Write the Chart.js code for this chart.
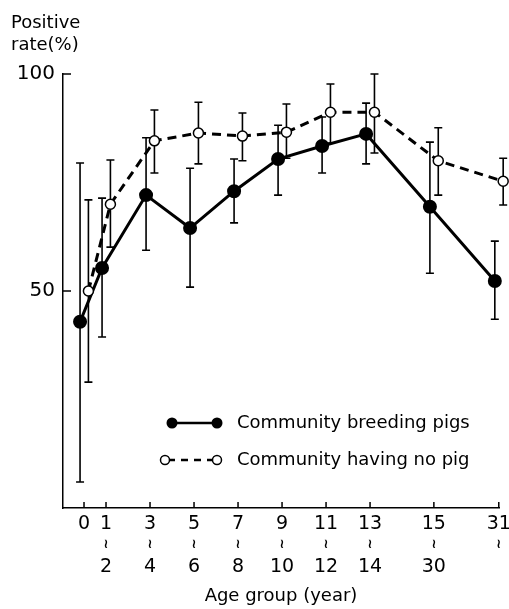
<!DOCTYPE html>
<html>
<head>
<meta charset="utf-8">
<script src="https://cdn.jsdelivr.net/npm/chart.js@4"></script>
<style>
  html, body { margin: 0; padding: 0; background: #fff; }
</style>
</head>
<body>
<canvas id="chart" width="509" height="609"></canvas>
<script>
// age groups: upper bound line, lower bound line, and where they sit on the axis
const ageTop = ['0', '1', '3', '5', '7', '9', '11', '13', '15', '31'];
const ageBottom = ['', '2', '4', '6', '8', '10', '12', '14', '30', ''];
const agePos = [0, 1, 3, 5, 7, 9, 11, 13, 15.9, 18.85];

// community breeding pigs
const breeding = [42.9, 55.3, 72.1, 64.5, 73.0, 80.4, 83.4, 86.2, 69.4, 52.3];
const breedingLow = [6.0, 39.4, 59.4, 50.9, 65.7, 72.1, 77.2, 79.3, 54.1, 43.5];
const breedingHigh = [79.5, 71.4, 85.3, 78.3, 80.4, 88.2, 90.1, 93.3, 84.3, 61.5];

// community having no pig
const noPig = [50.0, 70.0, 84.6, 86.4, 85.7, 86.6, 91.2, 91.2, 80.0, 75.3];
const noPigLow = [29.0, 60.1, 77.2, 79.3, 80.0, 80.6, 84.1, 81.8, 72.1, 69.8];
const noPigHigh = [71.0, 80.2, 91.7, 93.5, 91.0, 93.1, 97.7, 100, 87.6, 80.6];

const yTicks = [50, 100];
const FONT = "'DejaVu Sans', sans-serif";

// small side shift so the two series' bars don't sit on top of each other
const shiftBreeding = -0.18;
const shiftNoPig = 0.2;

const toPoints = (vals, shift) => vals.map((v, i) => ({x: agePos[i] + shift, y: v}));

const errorBars = {
  id: 'errorBars',
  beforeDatasetsDraw(chart) {
    const {ctx, scales: {x, y}} = chart;
    const sets = [
      [breedingLow, breedingHigh, shiftBreeding],
      [noPigLow, noPigHigh, shiftNoPig]
    ];
    ctx.save();
    ctx.strokeStyle = '#000';
    ctx.lineWidth = 1.6;
    sets.forEach(([lo, hi, shift]) => {
      lo.forEach((l, i) => {
        const px = x.getPixelForValue(agePos[i] + shift);
        const y1 = y.getPixelForValue(l);
        const y2 = y.getPixelForValue(hi[i]);
        ctx.beginPath();
        ctx.moveTo(px, y1); ctx.lineTo(px, y2);
        ctx.moveTo(px - 4, y1); ctx.lineTo(px + 4, y1);
        ctx.moveTo(px - 4, y2); ctx.lineTo(px + 4, y2);
        ctx.stroke();
      });
    });
    ctx.restore();
  }
};

const axisDecor = {
  id: 'axisDecor',
  afterDraw(chart) {
    const {ctx, chartArea, scales: {x, y}} = chart;
    ctx.save();
    ctx.strokeStyle = '#000';
    ctx.lineWidth = 1.5;
    // inward ticks
    ctx.beginPath();
    agePos.forEach(p => {
      const px = x.getPixelForValue(p);
      ctx.moveTo(px, chartArea.bottom);
      ctx.lineTo(px, chartArea.bottom - 6);
    });
    yTicks.forEach(v => {
      const py = y.getPixelForValue(v);
      ctx.moveTo(chartArea.left, py);
      ctx.lineTo(chartArea.left + 8, py);
    });
    ctx.stroke();

    // x labels: lower bound, squiggle, upper bound
    ctx.fillStyle = '#000';
    ctx.textAlign = 'center';
    ctx.textBaseline = 'middle';
    agePos.forEach((p, i) => {
      const px = x.getPixelForValue(p);
      ctx.font = '19px ' + FONT;
      ctx.fillText(ageTop[i], px, chartArea.bottom + 16);
      if (ageBottom[i]) ctx.fillText(ageBottom[i], px, chartArea.bottom + 59);
      if (i > 0) {
        ctx.font = 'bold 13px ' + FONT;
        ctx.fillText('≀', px, chartArea.bottom + 37);
      }
    });

    // y title
    ctx.textAlign = 'left';
    ctx.textBaseline = 'alphabetic';
    ctx.font = '18px ' + FONT;
    ctx.fillText('Positive', 11, 28);
    ctx.fillText('rate(%)', 11, 50);

    // legend
    const lx1 = 172, lx2 = 217, ly1 = 423, ly2 = 460;
    ctx.lineWidth = 2.5;
    ctx.beginPath();
    ctx.moveTo(lx1, ly1); ctx.lineTo(lx2, ly1);
    ctx.stroke();
    [lx1, lx2].forEach(cx => {
      ctx.beginPath();
      ctx.arc(cx, ly1, 5.5, 0, Math.PI * 2);
      ctx.fill();
    });
    ctx.setLineDash([7, 6]);
    ctx.beginPath();
    ctx.moveTo(168, ly2); ctx.lineTo(213, ly2);
    ctx.stroke();
    ctx.setLineDash([]);
    ctx.lineWidth = 1.5;
    [165, 217].forEach(cx => {
      ctx.beginPath();
      ctx.arc(cx, ly2, 4.5, 0, Math.PI * 2);
      ctx.fillStyle = '#fff';
      ctx.fill();
      ctx.stroke();
    });
    ctx.fillStyle = '#000';
    ctx.textBaseline = 'middle';
    ctx.font = '18px ' + FONT;
    ctx.fillText('Community breeding pigs', 237, ly1);
    ctx.fillText('Community having no pig', 237, ly2);
    ctx.restore();
  }
};

new Chart(document.getElementById('chart'), {
  type: 'line',
  data: {
    datasets: [
      {
        label: 'Community having no pig',
        data: toPoints(noPig, shiftNoPig),
        borderColor: '#000',
        borderWidth: 3,
        borderDash: [9, 6],
        pointRadius: 5,
        pointBorderWidth: 1.5,
        pointBackgroundColor: '#fff',
        pointBorderColor: '#000',
        tension: 0,
        clip: false
      },
      {
        label: 'Community breeding pigs',
        data: toPoints(breeding, shiftBreeding),
        borderColor: '#000',
        borderWidth: 3,
        pointRadius: 5.5,
        pointBackgroundColor: '#000',
        pointBorderColor: '#000',
        tension: 0,
        clip: false
      }
    ]
  },
  options: {
    responsive: false,
    animation: false,
    devicePixelRatio: 1,
    layout: {padding: {top: 74, right: 10, left: 0, bottom: 0}},
    plugins: {legend: {display: false}, tooltip: {enabled: false}},
    scales: {
      x: {
        type: 'linear',
        min: -0.955,
        max: 18.86,
        afterBuildTicks: s => { s.ticks = agePos.map(v => ({value: v})); },
        afterFit: s => { s.height = 101; },
        grid: {display: false},
        border: {display: true, color: '#000', width: 1.5},
        ticks: {display: false},
        title: {
          display: true,
          text: 'Age group (year)',
          color: '#000',
          font: {family: FONT, size: 18},
          padding: {top: 0, bottom: 2}
        }
      },
      y: {
        min: 0,
        max: 100,
        afterBuildTicks: s => { s.ticks = yTicks.map(v => ({value: v})); },
        afterFit: s => { s.width = 63; },
        grid: {display: false, drawTicks: false},
        border: {display: true, color: '#000', width: 1.5},
        ticks: {color: '#000', padding: 8, font: {family: FONT, size: 20}}
      }
    }
  },
  plugins: [errorBars, axisDecor]
});
</script>
</body>
</html>
